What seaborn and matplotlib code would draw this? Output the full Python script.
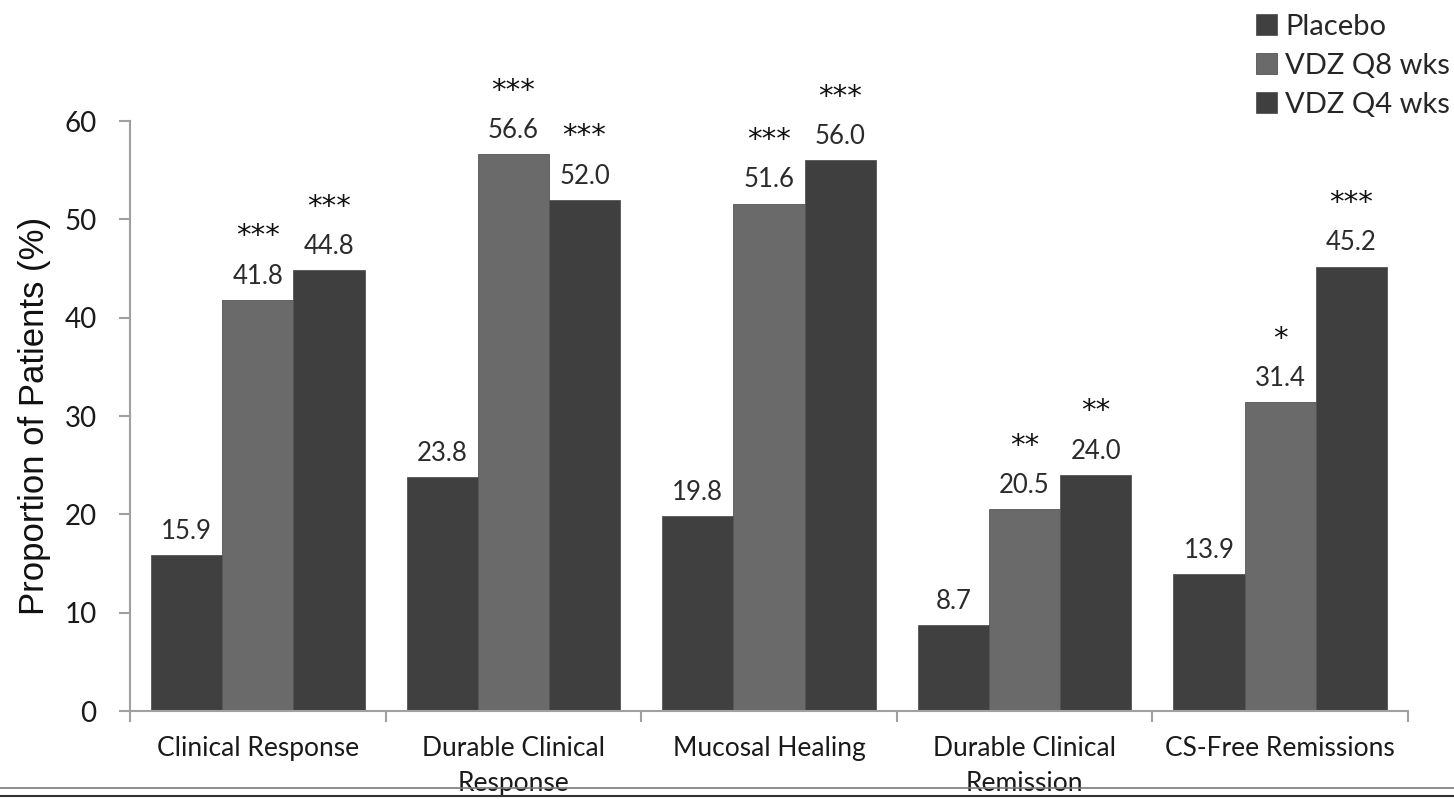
import matplotlib
matplotlib.use("Agg")
import matplotlib.pyplot as plt
from matplotlib.lines import Line2D
import seaborn as sns
import pandas as pd

categories = ["Clinical Response", "Durable Clinical\nResponse", "Mucosal Healing",
              "Durable Clinical\nRemission", "CS-Free Remissions"]
groups = ["Placebo", "VDZ Q8 wks", "VDZ Q4 wks"]
placebo = [15.9, 23.8, 19.8, 8.7, 13.9]
vdz_q8 = [41.8, 56.6, 51.6, 20.5, 31.4]
vdz_q4 = [44.8, 52.0, 56.0, 24.0, 45.2]
stars_placebo = ["", "", "", "", ""]
stars_q8 = ["***", "***", "***", "**", "*"]
stars_q4 = ["***", "***", "***", "**", "***"]
colors = ["#404040", "#6a6a6a", "#3f3f3f"]

df = pd.DataFrame({
    "category": categories * 3,
    "group": [g for g in groups for _ in categories],
    "value": placebo + vdz_q8 + vdz_q4,
})

sns.set_theme(style="ticks")
plt.rcParams["font.family"] = ["Lato", "DejaVu Sans"]

fig = plt.figure(figsize=(14.54, 7.99), dpi=100)
ax = fig.add_axes([130 / 1454, 88 / 799, 1278 / 1454, 590 / 799])

sns.barplot(data=df, x="category", y="value", hue="group", order=categories,
            hue_order=groups, palette=colors, width=0.835, gap=0,
            edgecolor="#555555", linewidth=0.6, saturation=1, ax=ax)

# value labels and significance stars
star_sets = [stars_placebo, stars_q8, stars_q4]
for container, stars in zip(ax.containers, star_sets):
    ax.bar_label(container, fmt="%.1f", padding=8, fontsize=18.5, color="#2b2b2b")
    for bar, s in zip(container, stars):
        if s:
            ax.annotate(s, (bar.get_x() + bar.get_width() / 2, bar.get_height()),
                        xytext=(0, 40), textcoords="offset points", ha="center",
                        va="baseline", fontsize=21, family="DejaVu Sans",
                        color="#111111", annotation_clip=False)

ax.set_ylim(0, 60)
ax.set_yticks(range(0, 61, 10))
ax.set_xlim(-0.5, len(categories) - 0.5)
ax.set_xticks(range(len(categories)))
ax.set_xticks([i - 0.5 for i in range(len(categories) + 1)], minor=True)
ax.set_xticklabels(categories, fontsize=19, linespacing=1.5, color="#1a1a1a")
ax.tick_params(axis="x", which="major", length=0, pad=18)
ax.tick_params(axis="x", which="minor", length=8, width=1.5, color="#a0a0a0", direction="out")
ax.tick_params(axis="y", length=8, width=1.5, color="#a0a0a0", pad=16, labelsize=20,
               labelcolor="#1a1a1a")

ax.set_xlabel("")
ax.set_ylabel("Proportion of Patients (%)", family=["Liberation Sans", "DejaVu Sans"],
              fontsize=25, color="#111111", labelpad=10)

sns.despine(ax=ax)
for side in ["left", "bottom"]:
    ax.spines[side].set_color("#a0a0a0")
    ax.spines[side].set_linewidth(1.5)

handles, labels = ax.get_legend_handles_labels()
ax.get_legend().remove()
fig.legend(handles, labels, loc="upper left", bbox_to_anchor=(1238 / 1454, 1.005),
           frameon=False, fontsize=21, handlelength=0.72, handleheight=0.72,
           handletextpad=0.3, labelspacing=0.45, borderaxespad=0.2)

# double rule across the bottom of the page
fig.add_artist(Line2D([0, 1], [1 - 788 / 799] * 2, color="#7a7a7a", lw=1.2, zorder=10))
fig.add_artist(Line2D([0, 1], [1 - 796 / 799] * 2, color="#333333", lw=1.5, zorder=10))

fig.savefig("out.png", dpi=100)
plt.close(fig)
